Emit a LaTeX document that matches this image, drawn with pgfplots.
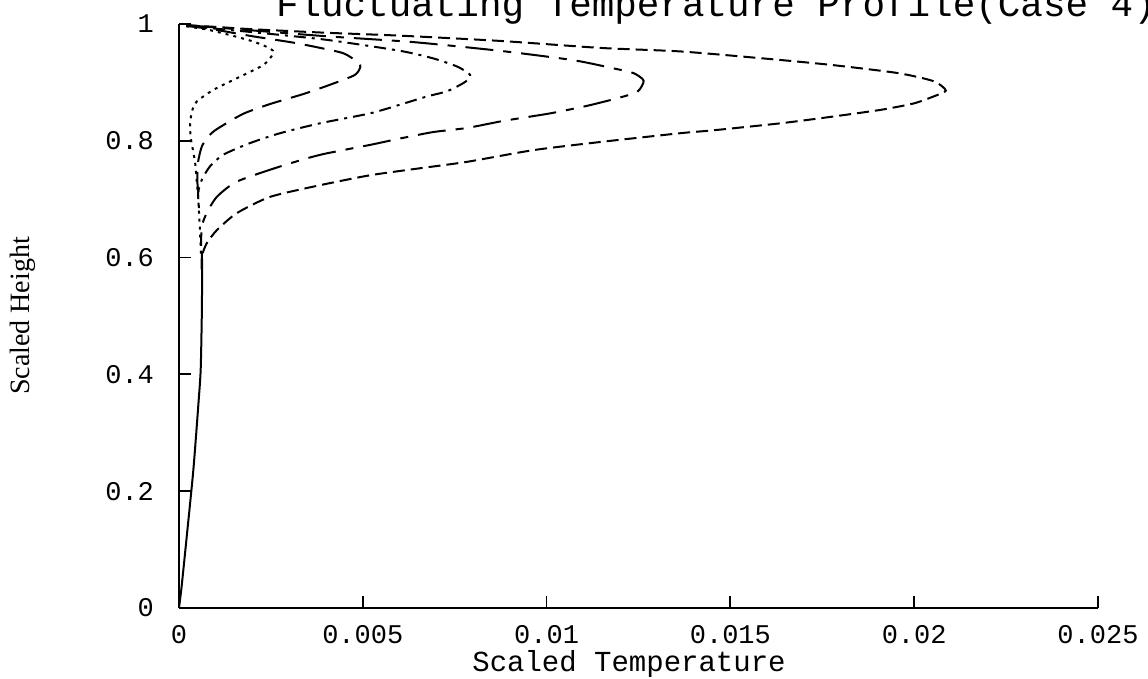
\documentclass[border=0pt]{standalone}
\usepackage{fontspec}
\setmainfont{Liberation Serif}
\newfontfamily\monof{Liberation Mono}
\usepackage{pgfplots}
\pgfplotsset{compat=1.18}

\begin{document}
\begin{tikzpicture}
\begin{axis}[
  scale only axis, width=459.5pt, height=292pt,
  xmin=0, xmax=0.025, ymin=0, ymax=1,
  axis x line*=bottom, axis y line*=left,
  axis line style={line width=1pt},
  xtick pos=lower, ytick pos=left, tick align=inside,
  major tick length=6pt,
  tick style={line width=0.9pt, black},
  scaled x ticks=false, scaled y ticks=false,
  xtick={0,0.005,0.01,0.015,0.02,0.025},
  xticklabels={0,0.005,0.01,0.015,0.02,0.025},
  ytick={0,0.2,0.4,0.6,0.8,1},
  yticklabels={0,0.2,0.4,0.6,0.8,1},
  tick label style={font=\monof\fontsize{13.5}{15}\selectfont},
  xticklabel shift=5pt, yticklabel shift=9pt,
  clip=false,
  every axis plot/.append style={line width=1pt, black, smooth, tension=0.4},
]
% common lower part
\addplot[solid] coordinates {
  (0,0)(0.00007,0.036)(0.00021,0.122)(0.00039,0.236)(0.00053,0.351)
  (0.00059,0.408)(0.00062,0.50)(0.00063,0.58)(0.00062,0.61)};
% dotted
\addplot[dash pattern=on 1.5pt off 2.5pt] coordinates {
  (0.0002,0.996)(0.0008,0.99)(0.00139,0.981)(0.00202,0.970)(0.00248,0.958)
  (0.00257,0.950)(0.0023,0.930)(0.00157,0.907)(0.00093,0.887)(0.00048,0.867)
  (0.00035,0.850)(0.0003,0.827)(0.00032,0.805)(0.00038,0.784)(0.00044,0.762)
  (0.00048,0.733)(0.00052,0.704)(0.00057,0.647)(0.0006,0.60)};
% long dash
\addplot[dash pattern=on 10pt off 5pt] coordinates {
  (0.0002,0.997)(0.001,0.99)(0.002,0.979)(0.00321,0.967)(0.00429,0.953)
  (0.00457,0.947)(0.00493,0.930)(0.00479,0.913)(0.00411,0.896)(0.00338,0.880)
  (0.00248,0.863)(0.00174,0.846)(0.00103,0.820)(0.00079,0.807)(0.00062,0.790)
  (0.00052,0.764)(0.0005,0.73)(0.00055,0.70)};
% dash dot
\addplot[dash pattern=on 6pt off 3pt on 1.5pt off 3pt] coordinates {
  (0.0002,0.997)(0.001,0.992)(0.002,0.986)(0.004,0.973)(0.00602,0.954)
  (0.00692,0.941)(0.00757,0.927)(0.00792,0.913)(0.00779,0.901)(0.0073,0.885)
  (0.00675,0.876)(0.00602,0.862)(0.0052,0.847)(0.00384,0.830)(0.00275,0.813)
  (0.00193,0.796)(0.0012,0.776)(0.00084,0.756)(0.00062,0.733)(0.00052,0.711)
  (0.00055,0.68)};
% long dash short dash
\addplot[dash pattern=on 14pt off 5pt on 4pt off 5pt] coordinates {
  (0.0002,0.998)(0.001,0.994)(0.002,0.989)(0.004,0.979)(0.00637,0.969)
  (0.00874,0.954)(0.01073,0.938)(0.01182,0.924)(0.01236,0.916)(0.01264,0.903)
  (0.01247,0.884)(0.01193,0.873)(0.01111,0.860)(0.0101,0.847)(0.00882,0.834)
  (0.00784,0.822)(0.00692,0.815)(0.00602,0.804)(0.0052,0.793)(0.00384,0.776)
  (0.00275,0.756)(0.00157,0.730)(0.00103,0.704)(0.00075,0.676)(0.00062,0.653)
  (0.0006,0.62)};
% short dash
\addplot[dash pattern=on 6pt off 3pt] coordinates {
  (0.0002,0.998)(0.001,0.995)(0.002,0.991)(0.004,0.985)(0.00602,0.980)
  (0.00874,0.971)(0.01147,0.959)(0.01364,0.953)(0.0159,0.941)(0.01773,0.930)
  (0.01955,0.916)(0.02053,0.902)(0.02086,0.886)(0.02053,0.876)(0.01999,0.864)
  (0.01909,0.853)(0.01773,0.841)(0.01637,0.830)(0.01454,0.818)(0.01364,0.813)
  (0.01147,0.798)(0.00964,0.784)(0.00784,0.764)(0.00656,0.753)(0.0052,0.741)
  (0.00384,0.724)(0.00248,0.704)(0.00157,0.676)(0.00103,0.647)(0.00075,0.624)
  (0.00062,0.602)(0.00062,0.579)};
\end{axis}
\node[anchor=base, font=\monof\fontsize{18.8}{20}\selectfont] at (268.5pt,295.5pt)
  {Fluctuating Temperature Profile(Case 4)};
\node[anchor=base, font=\monof\fontsize{14.5}{16}\selectfont] at (225pt,-32pt)
  {Scaled Temperature};
\node[rotate=90, font=\fontsize{14}{16}\selectfont] at (-78pt,146pt) {Scaled Height};
\pgfresetboundingbox
\path[use as bounding box] (-89.5pt,-35.5pt) rectangle (484.5pt,304pt);
\end{tikzpicture}
\end{document}
